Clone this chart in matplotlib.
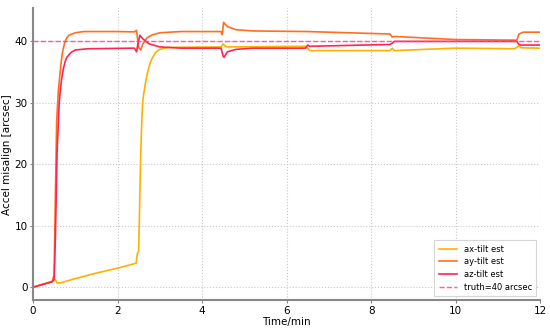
import numpy as np
import matplotlib
matplotlib.use("Agg")
import matplotlib.pyplot as plt

# values (time in min, misalignment in arcsec)
t_ax = [0.0, 0.45, 0.5, 0.53, 0.57, 0.65, 1.0, 1.5, 2.0, 2.44, 2.47, 2.5, 2.52, 2.55,
        2.58, 2.6, 2.65, 2.7, 2.75, 2.8, 2.9, 3.0, 3.2, 3.5, 4.45, 4.5, 4.55, 4.6, 6.45,
        6.5, 6.55, 8.45, 8.5, 8.55, 10.0, 11.4, 11.5, 11.55, 12.0]
v_ax = [0.0, 0.9, 1.1, 1.2, 0.7, 0.7, 1.4, 2.3, 3.1, 3.9, 5.5, 5.8, 12.0, 22.0,
        28.0, 30.5, 32.8, 34.6, 36.0, 37.0, 38.2, 38.7, 39.0, 39.05, 39.1, 39.6, 39.2, 39.1, 39.2,
        38.9, 38.5, 38.5, 38.9, 38.5, 38.9, 38.8, 39.3, 38.95, 38.9]

t_ay = [0.0, 0.45, 0.5, 0.53, 0.56, 0.6, 0.64, 0.67, 0.7, 0.75, 0.8, 0.85, 1.0, 1.2, 2.0, 2.4,
        2.45, 2.5, 2.55, 2.6, 2.7, 2.8, 3.0, 3.5, 4.45, 4.48, 4.51, 4.6, 4.8, 5.2,
        6.5, 8.45, 8.5, 8.55, 10.0, 11.45, 11.5, 11.6, 12.0]
v_ay = [0.0, 0.9, 2.0, 15.0, 27.0, 32.0, 34.8, 36.8, 38.3, 39.8, 40.6, 41.0, 41.4, 41.6, 41.6, 41.55,
        41.8, 39.0, 38.6, 39.6, 40.6, 41.0, 41.4, 41.6, 41.6, 41.1, 43.1, 42.4, 41.9, 41.7,
        41.6, 41.2, 40.7, 40.8, 40.3, 40.2, 41.2, 41.5, 41.5]

t_az = [0.0, 0.45, 0.5, 0.53, 0.57, 0.62, 0.65, 0.68, 0.72, 0.76, 0.8, 0.9, 1.0, 1.3, 2.4, 2.45,
        2.48, 2.53, 2.6, 2.75, 3.0, 3.5, 4.45, 4.5, 4.52, 4.6, 4.8, 5.2, 6.45,
        6.5, 6.55, 8.45, 8.5, 8.55, 11.45, 11.5, 11.55, 12.0]
v_az = [0.0, 0.9, 1.3, 8.0, 22.0, 30.0, 32.3, 34.0, 35.6, 36.7, 37.4, 38.2, 38.6, 38.8, 38.9, 38.3,
        39.5, 41.0, 40.4, 39.6, 39.1, 38.9, 38.9, 37.6, 37.4, 38.3, 38.7, 38.9, 38.9,
        39.4, 39.2, 39.5, 39.7, 40.0, 40.0, 39.5, 39.4, 39.4]

truth = 40
series_labels = ["ax-tilt est", "ay-tilt est", "az-tilt est"]
series_colors = ["#FFB000", "#FF6F1F", "#FF2452"]

fig, ax = plt.subplots(figsize=(5.5, 3.28), dpi=100)
fig.subplots_adjust(left=0.06, right=0.982, bottom=0.085, top=0.975)

for tt, vv, lab, col in zip([t_ax, t_ay, t_az], [v_ax, v_ay, v_az],
                            series_labels, series_colors):
    ax.plot(tt, vv, color=col, linewidth=1.2, label=lab)

ax.axhline(truth, color="#FF3FA4", linestyle="--", linewidth=1.0, alpha=0.85,
           label=f"truth={truth} arcsec")

ax.set_xlim(0, 12)
ax.set_ylim(-2.1, 45.4)
ax.set_xticks([0, 2, 4, 6, 8, 10, 12])
ax.set_yticks([0, 10, 20, 30, 40])
ax.tick_params(labelsize=7.5, length=2, color="#888888", pad=2)
ax.set_xlabel("Time/min", fontsize=7.5, labelpad=1)
ax.set_ylabel("Accel misalign [arcsec]", fontsize=7.5, labelpad=2)

ax.grid(True, linestyle=":", color="#C8C8C8", linewidth=0.8)
for side in ["top", "right"]:
    ax.spines[side].set_visible(False)
for side in ["left", "bottom"]:
    ax.spines[side].set_color("#888888")
    ax.spines[side].set_linewidth(1.5)

leg = ax.legend(loc="lower right", fontsize=6.0, frameon=True, fancybox=False,
                borderpad=0.5, handlelength=2.2, labelspacing=0.45)
leg.get_frame().set_edgecolor("#CCCCCC")
leg.get_frame().set_linewidth(0.8)

plt.savefig("out.png", dpi=100)
plt.close()
